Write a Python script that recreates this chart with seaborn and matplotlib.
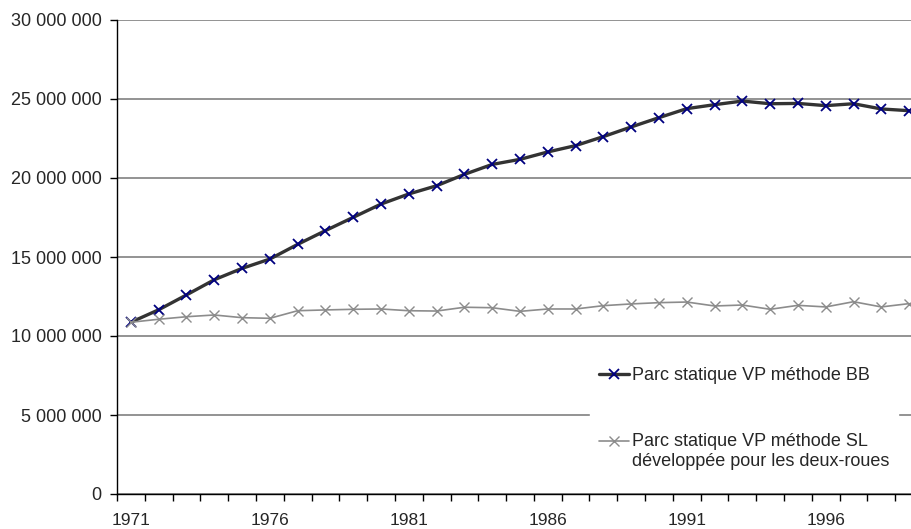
import matplotlib
matplotlib.use("Agg")
import matplotlib.pyplot as plt
from matplotlib.ticker import FuncFormatter, FixedLocator
from matplotlib.legend_handler import HandlerLine2D
import seaborn as sns
import pandas as pd

# Data
years = list(range(1971, 2000))
parc_bb = [10.87, 11.66, 12.60, 13.56, 14.28, 14.87, 15.80, 16.67, 17.51, 18.35,
           18.99, 19.51, 20.23, 20.86, 21.18, 21.65, 22.05, 22.62, 23.23, 23.82,
           24.39, 24.64, 24.87, 24.70, 24.72, 24.58, 24.70, 24.37, 24.26]
parc_sl = [10.87, 11.06, 11.22, 11.33, 11.16, 11.12, 11.60, 11.65, 11.69, 11.71,
           11.60, 11.58, 11.82, 11.79, 11.56, 11.71, 11.71, 11.92, 12.03, 12.11,
           12.15, 11.90, 11.96, 11.69, 11.94, 11.84, 12.17, 11.84, 12.05]
label_bb = "Parc statique VP méthode BB"
label_sl = "Parc statique VP méthode SL\ndéveloppée pour les deux-roues"
year_labels = [1971, 1976, 1981, 1986, 1991, 1996]

df = pd.DataFrame({"annee": years,
                   "bb": [v * 1e6 for v in parc_bb],
                   "sl": [v * 1e6 for v in parc_sl]})


# legend handle aligned with the first line of a two-line label
class FirstLineHandler(HandlerLine2D):
    def create_artists(self, legend, orig_handle, xdescent, ydescent,
                       width, height, fontsize, trans):
        artists = super().create_artists(legend, orig_handle, xdescent, ydescent,
                                         width, height, fontsize, trans)
        for a in artists:
            a.set_ydata([y + fontsize * 0.58 for y in a.get_ydata()])
        return artists


sns.set_style("white")
plt.rcParams["font.family"] = ["Liberation Sans", "DejaVu Sans"]

fig = plt.figure(figsize=(9.11, 5.29), dpi=100)
# plot area runs past the right edge (clipped like the original)
ax = fig.add_axes([117 / 911, 35 / 529, (923 - 117) / 911, 474 / 529])

sns.lineplot(data=df, x="annee", y="bb", ax=ax, color="#333333", linewidth=2.4,
             marker="x", markersize=6.5, markeredgecolor="#000080",
             markeredgewidth=1.3, label=label_bb, legend=False)
sns.lineplot(data=df, x="annee", y="sl", ax=ax, color="#8c8c8c", linewidth=1.2,
             marker="x", markersize=6.5, markeredgecolor="#8c8c8c",
             markeredgewidth=1.0, label=label_sl, legend=False)

ax.set_xlim(1970.5, 1999.5)
ax.set_ylim(0, 30e6)
ax.set_yticks(range(0, 30000001, 5000000))
ax.yaxis.set_major_formatter(FuncFormatter(lambda v, p: f"{int(v):,}".replace(",", " ")))
ax.grid(axis="y", color="#808080", linewidth=1.2)
ax.set_axisbelow(True)

# labels centred on categories, tick marks on category boundaries
ax.set_xticks(year_labels)
ax.set_xticklabels([str(y) for y in year_labels])
ax.xaxis.set_minor_locator(FixedLocator([y - 0.5 for y in years] + [1999.5]))
ax.tick_params(axis="x", which="major", length=0, pad=14, labelsize=12.5)
ax.tick_params(axis="x", which="minor", length=5, width=1, color="black", direction="out")
ax.tick_params(axis="y", length=5, width=1, color="black", direction="out", labelsize=13, pad=6)
ax.xaxis.set_ticks_position("bottom")
ax.yaxis.set_ticks_position("left")

for s in ["top", "right"]:
    ax.spines[s].set_visible(False)
for s in ["left", "bottom"]:
    ax.spines[s].set_color("black")
    ax.spines[s].set_linewidth(1)

ax.set_xlabel("")
ax.set_ylabel("")

lines = ax.get_lines()
leg = ax.legend(handles=lines[:2], loc="upper left",
                bbox_to_anchor=(590 / 911, 1 - 358 / 529),
                bbox_transform=fig.transFigure, frameon=True, fancybox=False,
                edgecolor="white", facecolor="white", framealpha=1,
                fontsize=13, handlelength=1.65, handletextpad=0.15,
                labelspacing=2.72, borderpad=0.5, borderaxespad=0,
                handler_map={lines[1]: FirstLineHandler()})
leg.set_zorder(5)

fig.savefig("out.png", dpi=100)
